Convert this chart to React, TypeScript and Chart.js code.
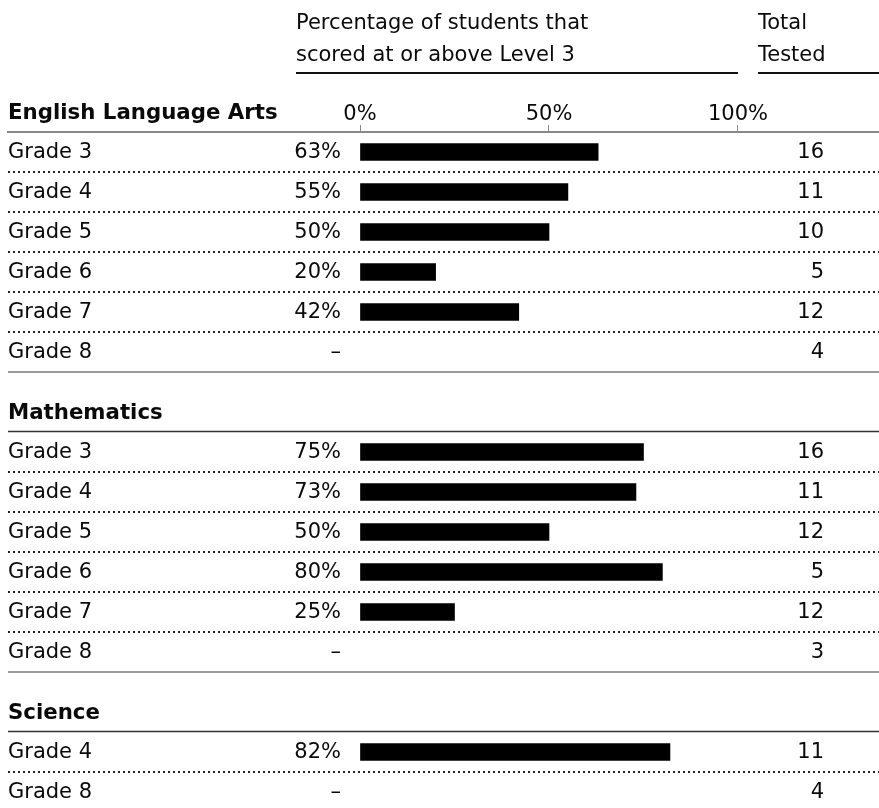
import React, { useEffect, useRef } from 'react';
import { Chart, registerables } from 'chart.js';

Chart.register(...registerables);

// ---------- data ----------
const sectionNames = ['English Language Arts', 'Mathematics', 'Science'];

const elaGrades = ['Grade 3', 'Grade 4', 'Grade 5', 'Grade 6', 'Grade 7', 'Grade 8'];
const elaPct: (number | null)[] = [63, 55, 50, 20, 42, null];
const elaTested = [16, 11, 10, 5, 12, 4];

const mathGrades = ['Grade 3', 'Grade 4', 'Grade 5', 'Grade 6', 'Grade 7', 'Grade 8'];
const mathPct: (number | null)[] = [75, 73, 50, 80, 25, null];
const mathTested = [16, 11, 12, 5, 12, 3];

const sciGrades = ['Grade 4', 'Grade 8'];
const sciPct: (number | null)[] = [82, null];
const sciTested = [11, 4];

const xTickValues = [0, 50, 100];
const pctHeader = ['Percentage of students that', 'scored at or above Level 3'];
const testedHeader = ['Total', 'Tested'];
const missingMark = '–';

// ---------- layout / style ----------
const W = 879;
const H = 808;
const LEFT = 8;
const TOP = 132;
const ROW = 40;
const X0 = 360;
const PX_PER_PCT = 3.78;
const SECTION_GAP = 1.5;
const FONT = '"DejaVu Sans", Verdana, sans-serif';
const F_REG = `21px ${FONT}`;
const F_BOLD = `bold 21.3px ${FONT}`;
const TEXT = '#0a0a0a';

type Group = { name: string; grades: string[]; pct: (number | null)[]; tested: number[]; start: number };

const rawGroups = [
  { name: sectionNames[0], grades: elaGrades, pct: elaPct, tested: elaTested },
  { name: sectionNames[1], grades: mathGrades, pct: mathPct, tested: mathTested },
  { name: sectionNames[2], grades: sciGrades, pct: sciPct, tested: sciTested },
];

function layoutGroups(): Group[] {
  let start = 0;
  return rawGroups.map((g) => {
    const s = start;
    start += g.grades.length + SECTION_GAP;
    return { ...g, start: s };
  });
}

export default function App() {
  const ref = useRef<HTMLCanvasElement | null>(null);

  useEffect(() => {
    if (!ref.current) return;
    const groups = layoutGroups();
    const points: { x: number; y: number }[] = [];
    groups.forEach((g) =>
      g.pct.forEach((v, i) => {
        if (v != null) points.push({ x: v, y: g.start + i });
      })
    );

    const yMin = -0.5;
    const yMax = yMin + (H - TOP) / ROW;
    const xMin = (LEFT - X0) / PX_PER_PCT;
    const xMax = (W - X0) / PX_PER_PCT;

    const line = (ctx: CanvasRenderingContext2D, x1: number, y1: number, x2: number, y2: number, color: string, w: number, dash: number[] = []) => {
      ctx.save();
      ctx.strokeStyle = color;
      ctx.lineWidth = w;
      ctx.setLineDash(dash);
      ctx.beginPath();
      ctx.moveTo(x1, y1);
      ctx.lineTo(x2, y2);
      ctx.stroke();
      ctx.restore();
    };

    const tablePlugin = {
      id: 'tablePlugin',
      afterDraw(chart: any) {
        const ctx: CanvasRenderingContext2D = chart.ctx;
        const ys = chart.scales.y;
        const xs = chart.scales.x;
        const area = chart.chartArea;
        const yp = (p: number) => ys.getPixelForValue(p);
        const zeroX = xs.getPixelForValue(0);
        ctx.save();
        ctx.fillStyle = TEXT;
        ctx.textBaseline = 'middle';
        ctx.font = F_REG;
        ctx.textAlign = 'left';
        pctHeader.forEach((t, i) => ctx.fillText(t, 296, 24 + i * 32));
        testedHeader.forEach((t, i) => ctx.fillText(t, 758, 24 + i * 32));
        line(ctx, 296, 73, 738, 73, '#111', 2);
        line(ctx, 758, 73, W, 73, '#111', 2);

        groups.forEach((g, gi) => {
          ctx.font = F_BOLD;
          ctx.textAlign = 'left';
          ctx.fillStyle = TEXT;
          ctx.fillText(g.name, LEFT, yp(g.start - 1) + 1);
          if (gi > 0) {
            const ly = Math.round(yp(g.start - 0.5)) - 0.5;
            line(ctx, area.left, ly, area.right, ly, '#333', 1.5);
          }
          const n = g.grades.length;
          g.grades.forEach((gr, i) => {
            const yy = yp(g.start + i) + 1;
            ctx.font = F_REG;
            ctx.fillStyle = TEXT;
            ctx.textAlign = 'left';
            ctx.fillText(gr, LEFT, yy);
            ctx.textAlign = 'right';
            const v = g.pct[i];
            ctx.fillText(v == null ? missingMark : `${v}%`, zeroX - 19, yy);
            ctx.fillText(String(g.tested[i]), 824, yy);
            if (i < n - 1) {
              const ly = yp(g.start + i + 0.5);
              line(ctx, area.left, ly, area.right, ly, '#222', 2, [2, 3]);
            }
          });
          if (gi < groups.length - 1) {
            const ly = yp(g.start + n - 0.5);
            line(ctx, area.left, ly, area.right, ly, '#777', 1.5);
          }
        });
        ctx.restore();
      },
    };

    const chart = new Chart(ref.current, {
      type: 'bar',
      data: {
        datasets: [
          {
            data: points as any,
            backgroundColor: '#000',
            borderWidth: 0,
            barThickness: 17,
          } as any,
        ],
      },
      options: {
        indexAxis: 'y',
        animation: false,
        responsive: false,
        devicePixelRatio: 1,
        layout: { padding: { left: LEFT, right: 0, top: TOP - 34, bottom: 0 } },
        plugins: { legend: { display: false }, tooltip: { enabled: false } },
        scales: {
          x: {
            type: 'linear',
            position: 'top',
            min: xMin,
            max: xMax,
            afterBuildTicks: (s: any) => {
              s.ticks = xTickValues.map((v) => ({ value: v }));
            },
            afterFit: (s: any) => {
              s.height = 34;
            },
            ticks: {
              callback: (v: any) => `${v}%`,
              font: { family: FONT, size: 21 },
              color: TEXT,
              padding: -2,
              maxRotation: 0,
              autoSkip: false,
            },
            grid: { drawOnChartArea: false, drawTicks: true, tickLength: 7, color: '#888', lineWidth: 1 },
            border: { display: true, color: '#888', width: 2 },
          },
          y: {
            type: 'linear',
            reverse: true,
            offset: false,
            grace: 0,
            min: yMin,
            max: yMax,
            display: false,
          },
        },
      } as any,
      plugins: [tablePlugin as any],
    });
    return () => chart.destroy();
  }, []);

  return (
    <div style={{ position: 'absolute', left: 0, top: 0, width: W, height: H, background: '#fff', overflow: 'hidden' }}>
      <canvas ref={ref} width={W} height={H} style={{ display: 'block' }} />
    </div>
  );
}
